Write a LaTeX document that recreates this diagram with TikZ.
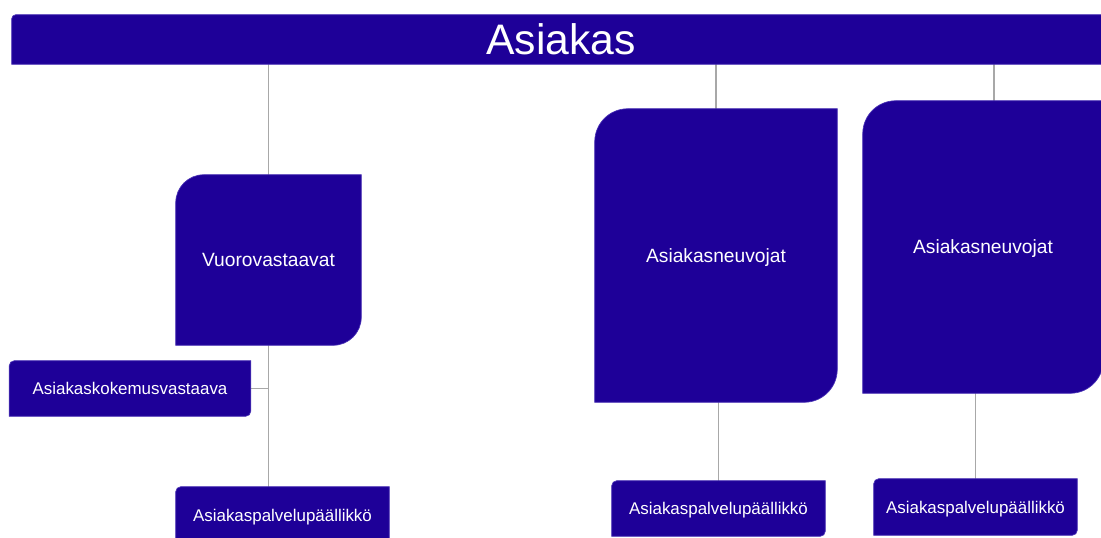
\documentclass[tikz,border=0pt]{standalone}
\usepackage{fontspec}
\setmainfont{Liberation Sans}
\usetikzlibrary{calc,backgrounds}
\definecolor{orgfill}{HTML}{1E0098}
\definecolor{orgedge}{HTML}{4A33B5}
\definecolor{linkgray}{HTML}{A8A8A8}
\newcommand\px{0.75pt}
% unit shape: rounded top-left and bottom-right corners, square elsewhere
\newcommand\orgshape[2]{%
  \path[orgbody] ($(#1.north west)+(0,-#2)$)
    arc[start angle=180,end angle=90,radius=#2]
    -- (#1.north east) -- ($(#1.south east)+(0,#2)$)
    arc[start angle=0,end angle=-90,radius=#2]
    -- (#1.south west) -- cycle;}
\tikzset{
  orgbody/.style={fill=orgfill, draw=orgedge, line width=0.5pt},
  unit/.style={inner sep=0pt, text=white, align=center, text depth=0pt},
  titleunit/.style={unit, font=\fontsize{32}{36}\selectfont, text height=22.9pt},
  bigunit/.style={unit, font=\fontsize{14.4}{17}\selectfont, text height=10.3pt},
  smallunit/.style={unit, font=\fontsize{12.7}{15}\selectfont, text height=9.1pt},
  link/.style={draw=linkgray, line width=1pt},
}
\begin{document}
\begin{tikzpicture}[x=0.75pt,y=-0.75pt]
\useasboundingbox (0,0) rectangle (1101,537);

\node[titleunit, minimum width=1098*\px, minimum height=49*\px] (top) at (561,39.5) {Asiakas};

\node[bigunit, minimum width=185*\px, minimum height=170*\px] (vuoro) at (268.5,260) {Vuorovastaavat};
\node[smallunit, minimum width=241*\px, minimum height=55*\px] (kokemus) at (130,388.5) {Asiakaskokemusvastaava};
\node[smallunit, minimum width=213*\px, minimum height=56*\px] (pal1) at (282.5,515) {Asiakaspalvelupäällikkö};

\node[bigunit, minimum width=242*\px, minimum height=293*\px] (neuvo1) at (716,255.5) {Asiakasneuvojat};
\node[smallunit, minimum width=213*\px, minimum height=55*\px] (pal2) at (718.5,508.5) {Asiakaspalvelupäällikkö};

\node[bigunit, minimum width=240*\px, minimum height=292*\px] (neuvo2) at (983,247) {Asiakasneuvojat};
\node[smallunit, minimum width=203*\px, minimum height=56*\px] (pal3) at (975.5,507) {Asiakaspalvelupäällikkö};

\begin{pgfonlayer}{background}
  \clip (0,0) rectangle (1101,537);
  % connectors
  \draw[link] (vuoro.north) -- (vuoro.north |- top.south);
  \draw[link] (vuoro.south) -- (vuoro.south |- pal1.north);
  \draw[link] (kokemus.east) -- (kokemus.east -| vuoro.south);
  \draw[link] (neuvo1.north) -- (neuvo1.north |- top.south);
  \draw[link] (pal2.north) -- (pal2.north |- neuvo1.south);
  \draw[link] ([xshift=11*\px]neuvo2.north) -- ([xshift=11*\px]neuvo2.north |- top.south);
  \draw[link] (pal3.north) -- (pal3.north |- neuvo2.south);
  % unit boxes
  \orgshape{top}{4*\px}
  \orgshape{vuoro}{28*\px}
  \orgshape{kokemus}{5*\px}
  \orgshape{pal1}{5*\px}
  \orgshape{neuvo1}{33*\px}
  \orgshape{pal2}{5*\px}
  \orgshape{neuvo2}{33*\px}
  \orgshape{pal3}{5*\px}
\end{pgfonlayer}
\end{tikzpicture}
\end{document}
